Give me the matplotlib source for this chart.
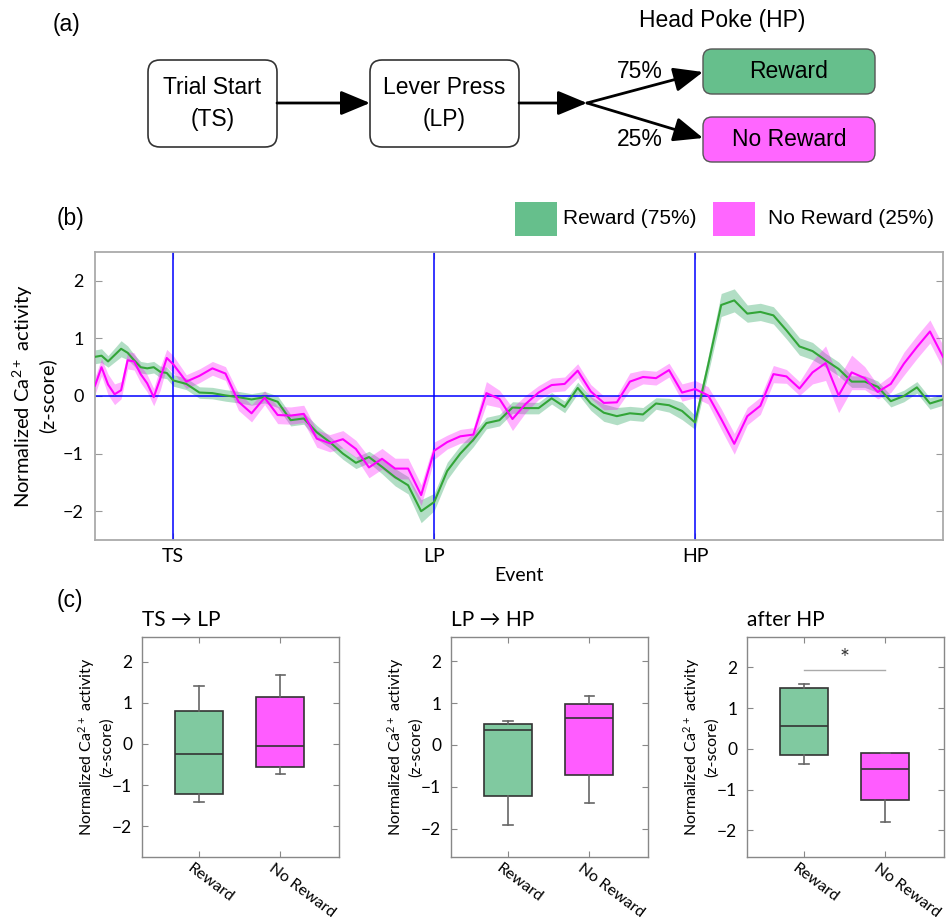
import matplotlib
matplotlib.use('Agg')
import matplotlib.pyplot as plt
from matplotlib.patches import FancyBboxPatch, Rectangle, FancyArrowPatch
import matplotlib.transforms as mtransforms
import numpy as np

plt.rcParams['font.family'] = ['Lato', 'DejaVu Sans']
plt.rcParams['mathtext.fontset'] = 'custom'
plt.rcParams['mathtext.rm'] = 'Lato'
plt.rcParams['mathtext.default'] = 'regular'

# ---------------- data ----------------
# (a) flow diagram texts
flow_labels = ['Trial Start\n(TS)', 'Lever Press\n(LP)']
outcome_labels = ['Reward', 'No Reward']
outcome_probs = ['75%', '25%']
hp_title = 'Head Poke (HP)'

# (b) time course (sample index; events at TS, LP, HP)
t = [0, 0.5, 1, 1.5, 2, 2.5, 3, 3.5, 4, 4.5, 5, 5.5, 6,
     7, 8, 9, 10, 11, 12, 13, 14, 15, 16, 17, 18, 19, 20, 21, 22, 23, 24, 25, 26,
     27, 28, 29, 30, 31, 32, 33, 34, 35, 36, 37, 38, 39, 40, 41, 42, 43, 44, 45, 46,
     47, 48, 49, 50, 51, 52, 53, 54, 55, 56, 57, 58, 59, 60, 61, 62, 63, 64, 65]
event_pos = [6, 26, 46]
event_labels = ['TS', 'LP', 'HP']

reward_mean = [0.68, 0.70, 0.60, 0.71, 0.82, 0.75, 0.62, 0.50, 0.48, 0.50, 0.42, 0.40, 0.27,
               0.21, 0.06, 0.05, 0.01, -0.02, -0.06, -0.02, -0.10, -0.42, -0.39, -0.63, -0.80,
               -1.00, -1.16, -1.06, -1.23, -1.41, -1.55, -2.00, -1.84,
               -1.30, -1.00, -0.76, -0.47, -0.42, -0.20, -0.21, -0.21, -0.04, -0.19, 0.14,
               -0.13, -0.29, -0.35, -0.30, -0.32, -0.13, -0.16, -0.26, -0.46,
               0.54, 1.58, 1.66, 1.43, 1.46, 1.40, 1.14, 0.86, 0.78, 0.62, 0.47, 0.25, 0.25,
               0.16, -0.09, 0.00, 0.15, -0.13, -0.06]
reward_sem = [0.12, 0.12, 0.10, 0.12, 0.14, 0.12, 0.10, 0.10, 0.10, 0.10, 0.10, 0.10, 0.10,
              0.10, 0.10, 0.10, 0.10, 0.10, 0.10, 0.10, 0.10, 0.10, 0.10, 0.12, 0.10, 0.10,
              0.10, 0.10, 0.12, 0.15, 0.15, 0.20, 0.15,
              0.15, 0.14, 0.12, 0.10, 0.10, 0.10, 0.10, 0.10, 0.10, 0.10, 0.10, 0.12, 0.15,
              0.15, 0.12, 0.12, 0.10, 0.12, 0.15, 0.12,
              0.15, 0.20, 0.20, 0.15, 0.15, 0.15, 0.15, 0.15, 0.15, 0.12, 0.12, 0.10, 0.10,
              0.10, 0.10, 0.10, 0.10, 0.10, 0.10]
noreward_mean = [0.18, 0.50, 0.20, 0.03, 0.10, 0.62, 0.60, 0.38, 0.22, -0.02, 0.30, 0.66, 0.55,
                 0.25, 0.35, 0.48, 0.39, -0.10, -0.30, -0.03, -0.33, -0.34, -0.31, -0.74,
                 -0.82, -0.75, -0.92, -1.24, -1.09, -1.26, -1.26, -1.72, -0.95,
                 -0.80, -0.70, -0.67, 0.05, -0.05, -0.40, -0.14, 0.06, 0.19, 0.21, 0.44, 0.08,
                 -0.12, -0.11, 0.25, 0.33, 0.31, 0.45, 0.06, 0.12,
                 0.01, -0.40, -0.83, -0.35, -0.17, 0.38, 0.34, 0.13, 0.41, 0.57, 0.01, 0.41,
                 0.31, 0.07, 0.21, 0.56, 0.85, 1.12, 0.68]
noreward_sem = [0.15, 0.15, 0.18, 0.18, 0.15, 0.15, 0.15, 0.15, 0.15, 0.15, 0.20, 0.15, 0.15,
                0.12, 0.12, 0.12, 0.12, 0.15, 0.15, 0.12, 0.15, 0.15, 0.15, 0.15, 0.15, 0.15,
                0.15, 0.18, 0.18, 0.18, 0.18, 0.18, 0.15,
                0.12, 0.12, 0.12, 0.20, 0.15, 0.20, 0.15, 0.12, 0.12, 0.12, 0.12, 0.12, 0.12,
                0.12, 0.15, 0.12, 0.12, 0.12, 0.15, 0.15,
                0.15, 0.18, 0.18, 0.15, 0.15, 0.15, 0.12, 0.12, 0.20, 0.30, 0.30, 0.30, 0.20,
                0.12, 0.15, 0.20, 0.20, 0.20, 0.20]
legend_labels = ['Reward (75%)', 'No Reward (25%)']

# (c) box plot summaries: [whislo, q1, med, q3, whishi]
panel_titles = ['TS \u2192 LP', 'LP \u2192 HP', 'after HP']
box_categories = ['Reward', 'No Reward']
tslp_reward = [-1.42, -1.21, -0.25, 0.81, 1.40]
tslp_noreward = [-0.74, -0.55, -0.05, 1.14, 1.68]
lphp_reward = [-1.91, -1.22, 0.36, 0.50, 0.56]
lphp_noreward = [-1.39, -0.72, 0.64, 0.97, 1.17]
afterhp_reward = [-0.36, -0.15, 0.55, 1.50, 1.59]
afterhp_noreward = [-1.80, -1.26, -0.49, -0.11, -0.11]
sig_level = 1.93
sig_label = '*'

# ---------------- figure ----------------
W, H = 946, 919
fig = plt.figure(figsize=(W / 100, H / 100), dpi=100)

GREEN = '#66bf8c'
MAGENTA = '#ff66ff'
ARIAL = ['Liberation Sans', 'DejaVu Sans']

# ----- (a) diagram -----
axa = fig.add_axes([0, 1 - 180 / H, 1, 180 / H])
axa.set_xlim(0, W)
axa.set_ylim(180, 0)
axa.axis('off')
fig.text(66 / W, 1 - 25 / H, '(a)', fontsize=16.5, family=ARIAL, ha='center', va='center')

flow_boxes = [(148, 60, 129, 87), (370, 60, 149, 87)]
for (x0, y0, w, h), lab in zip(flow_boxes, flow_labels):
    axa.add_patch(FancyBboxPatch((x0, y0), w, h, boxstyle='round,pad=0,rounding_size=12',
                                 fc='white', ec='#333333', lw=1.2))
    axa.text(x0 + w / 2, y0 + h / 2, lab, ha='center', va='center', fontsize=16.5,
             family=ARIAL, linespacing=1.45)

out_boxes = [(703, 49, 172, 45), (703, 117, 172, 45)]
out_colors = [GREEN, MAGENTA]
for (x0, y0, w, h), lab, c in zip(out_boxes, outcome_labels, out_colors):
    axa.add_patch(FancyBboxPatch((x0, y0), w, h, boxstyle='round,pad=0,rounding_size=9',
                                 fc=c, ec='#555555', lw=1.0))
    axa.text(x0 + w / 2, y0 + h / 2, lab, ha='center', va='center', fontsize=16.5,
             family=ARIAL)
axa.text(722, 20, hp_title, ha='center', va='center', fontsize=16.5, family=ARIAL)

arr_kw = dict(arrowstyle='-|>,head_length=1.2,head_width=0.5', color='black', lw=2,
              mutation_scale=15, shrinkA=0, shrinkB=0)
axa.add_patch(FancyArrowPatch((277, 103), (370, 103), **arr_kw))
axa.add_patch(FancyArrowPatch((519, 103), (587, 103), **arr_kw))
axa.add_patch(FancyArrowPatch((587, 103), (703, 72), **arr_kw))
axa.add_patch(FancyArrowPatch((587, 103), (703, 138), **arr_kw))
axa.text(640, 71, outcome_probs[0], ha='center', va='center', fontsize=16.5, family=ARIAL)
axa.text(640, 140, outcome_probs[1], ha='center', va='center', fontsize=16.5, family=ARIAL)

# ----- (b) time course -----
fig.text(70 / W, 1 - 219 / H, '(b)', fontsize=16.5, family=ARIAL, ha='center', va='center')
leg_items = [(515, GREEN, 563), (713, MAGENTA, 768)]
for (px, c, tx), lab in zip(leg_items, legend_labels):
    fig.patches.append(Rectangle((px / W, 1 - 236 / H), 42 / W, 34 / H, transform=fig.transFigure,
                                 fc=c, ec='none'))
    fig.text(tx / W, 1 - 219 / H, lab, fontsize=15, family=ARIAL, ha='left', va='center')

axb = fig.add_axes([95 / W, 1 - 540 / H, 848 / W, 288 / H])
tt = np.array(t)
rm, rs = np.array(reward_mean), np.array(reward_sem)
nm, ns = np.array(noreward_mean), np.array(noreward_sem)
axb.fill_between(tt, rm - rs, rm + rs, color=GREEN, alpha=0.5, lw=0, zorder=2)
axb.fill_between(tt, nm - ns, nm + ns, color='#ff00ff', alpha=0.3, lw=0, zorder=2)
for p in event_pos:
    axb.axvline(p, color='#0000ff', lw=1.1, zorder=2.5)
axb.axhline(0, color='#0000ff', lw=1.1, zorder=2.5)
axb.plot(tt, rm, color='#33a538', lw=1.5, zorder=3)
axb.plot(tt, nm, color='#ff00ff', lw=1.5, zorder=3)
axb.set_xlim(0, 65)
axb.set_ylim(-2.5, 2.5)
axb.set_xticks(event_pos)
axb.set_xticklabels(event_labels, fontsize=14)
axb.set_yticks([-2, -1, 0, 1, 2])
axb.set_yticklabels(['\u22122', '\u22121', '0', '1', '2'], fontsize=13)
axb.tick_params(direction='in', length=5, color='#999999', right=True, top=True, pad=8)
axb.tick_params(axis='x', pad=6)
for s in axb.spines.values():
    s.set_color('#aaaaaa')
    s.set_linewidth(1.3)
axb.set_xlabel('Event', fontsize=14, labelpad=1)
axb.set_ylabel('Normalized Ca$^{2+}$ activity\n(z-score)', fontsize=14.5, labelpad=5,
               linespacing=1.2)

# ----- (c) box plots -----
fig.text(70 / W, 1 - 600 / H, '(c)', fontsize=16.5, family=ARIAL, ha='center', va='center')
panel_lefts = [142, 451, 747]
panel_ylims = [(-2.75, 2.6), (-2.68, 2.58), (-2.65, 2.74)]
panel_data = [(tslp_reward, tslp_noreward), (lphp_reward, lphp_noreward),
              (afterhp_reward, afterhp_noreward)]
box_colors = ['#80c9a0', '#ff5cff']
shift = mtransforms.ScaledTranslation(-7 / 72, 0, fig.dpi_scale_trans)
for i, (left, ylim, data, title) in enumerate(zip(panel_lefts, panel_ylims, panel_data,
                                                   panel_titles)):
    ax = fig.add_axes([left / W, 1 - 857 / H, 197 / W, 220 / H])
    stats = []
    for d, lab in zip(data, box_categories):
        stats.append(dict(whislo=d[0], q1=d[1], med=d[2], q3=d[3], whishi=d[4], label=lab))
    bp = ax.bxp(stats, positions=[1, 2], widths=0.59, patch_artist=True, showfliers=False,
                boxprops=dict(ec='#333333', lw=1.2),
                medianprops=dict(color='#333333', lw=1.2),
                whiskerprops=dict(color='#666666', lw=1.2),
                capprops=dict(color='#666666', lw=1.2), capwidths=0.12)
    for patch, c in zip(bp['boxes'], box_colors):
        patch.set_facecolor(c)
    ax.set_xlim(0.3, 2.72)
    ax.set_ylim(*ylim)
    ax.set_yticks([-2, -1, 0, 1, 2])
    ax.set_yticklabels(['\u22122', '\u22121', '0', '1', '2'], fontsize=12.5)
    ax.set_xticks([1, 2])
    ax.set_xticklabels(box_categories, fontsize=11.5, rotation=-37, ha='left', va='center',
                       rotation_mode='anchor')
    ax.tick_params(direction='in', length=4, color='#888888', right=True, top=True, pad=7)
    ax.tick_params(axis='x', pad=7)
    for lbl in ax.get_xticklabels():
        lbl.set_transform(lbl.get_transform() + shift)
    for s in ax.spines.values():
        s.set_color('#888888')
        s.set_linewidth(1.0)
    ax.set_ylabel('Normalized Ca$^{2+}$ activity\n(z-score)', fontsize=11.5, labelpad=-1,
                  linespacing=1.15)
    ax.set_title(title, loc='left', fontsize=15, pad=8)
    if i == 2:
        ax.plot([1, 2], [sig_level, sig_level], color='#aaaaaa', lw=1.0)
        ax.text(1.5, sig_level + 0.02, sig_label, ha='center', va='bottom', fontsize=17,
                color='#333333')

fig.savefig('out.png', dpi=100)
